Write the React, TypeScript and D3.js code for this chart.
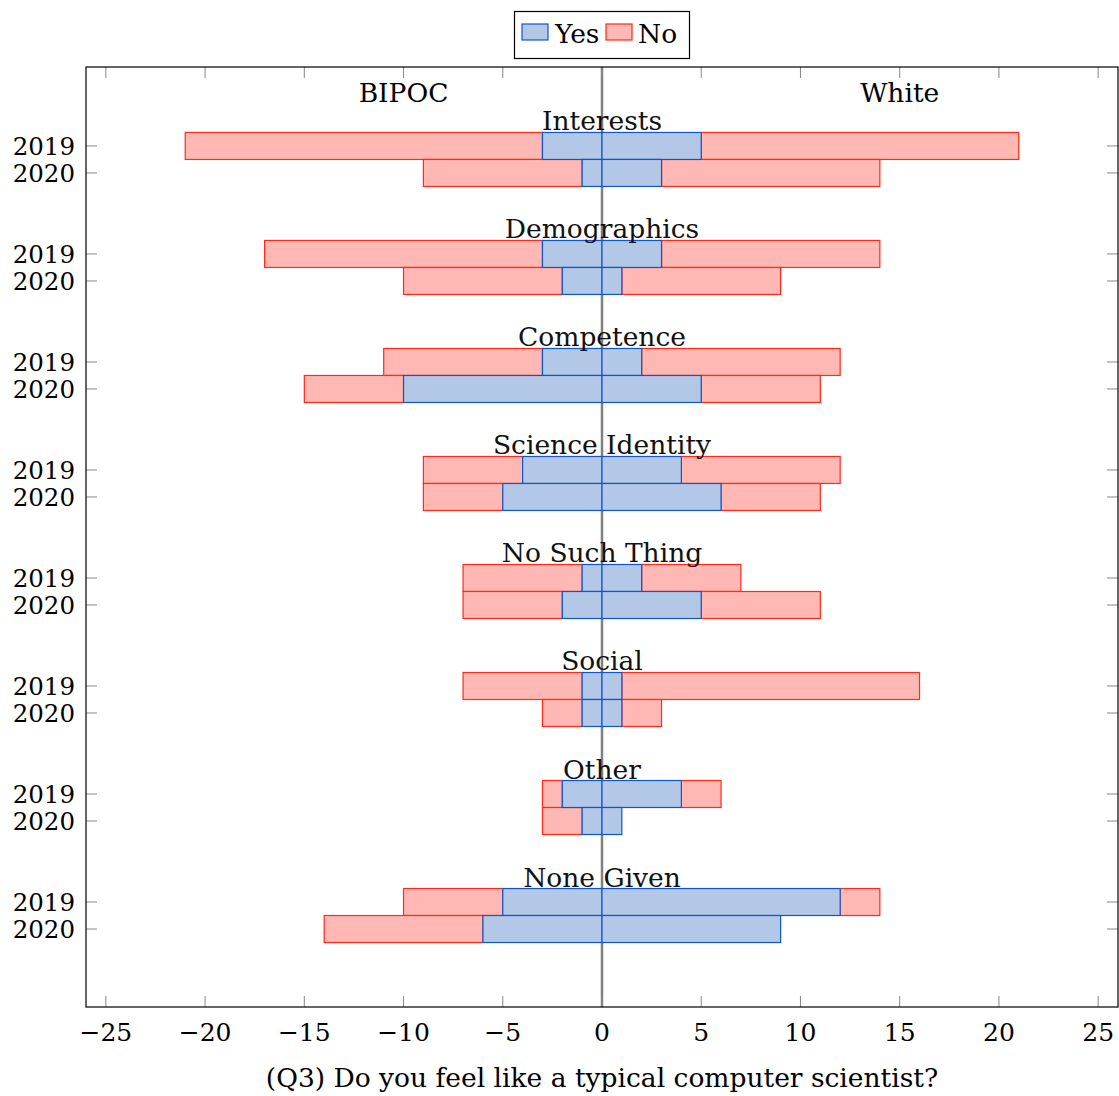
import React, { useRef, useEffect } from "react";
import * as d3 from "d3";

const categories = [
  "Interests",
  "Demographics",
  "Competence",
  "Science Identity",
  "No Such Thing",
  "Social",
  "Other",
  "None Given",
];
const years = ["2019", "2020"];

// counts per category, [2019, 2020]
const bipocYes = [[3, 1], [3, 2], [3, 10], [4, 5], [1, 2], [1, 1], [2, 1], [5, 6]];
const bipocNo = [[18, 8], [14, 8], [8, 5], [5, 4], [6, 5], [6, 2], [1, 2], [5, 8]];
const whiteYes = [[5, 3], [3, 1], [2, 5], [4, 6], [2, 5], [1, 1], [4, 1], [12, 9]];
const whiteNo = [[16, 11], [11, 8], [10, 6], [8, 5], [5, 6], [15, 2], [2, 0], [2, 0]];

const xTicks = [-25, -20, -15, -10, -5, 0, 5, 10, 15, 20, 25];

const font = "DejaVu Serif";
const fsWord = 26.5;
const fsNum = 24.5;
const blueFill = "#b3c7e7";
const blueStroke = "#1155cc";
const redFill = "#ffb8b3";
const redStroke = "#ff2a1a";

export default function App() {
  const ref = useRef<SVGSVGElement>(null);

  const width = 1119;
  const height = 1096;
  const left = 86;
  const right = 1118;
  const top = 67;
  const bottom = 1007;

  useEffect(() => {
    const vis = d3.select(ref.current);
    vis.selectAll("*").remove();

    const x = d3.scaleLinear().domain([-26, 26]).range([left, right]);
    const y = d3.scaleLinear().domain([-0.731, 7.972]).range([top, bottom]);
    const barH = y(0.25) - y(0);

    // center line
    vis
      .append("line")
      .attr("x1", x(0))
      .attr("x2", x(0))
      .attr("y1", top)
      .attr("y2", bottom)
      .attr("stroke", "#808080")
      .attr("stroke-width", 2.5);

    const rows: any[] = [];
    categories.forEach((c, g) => {
      years.forEach((yr, k) => {
        rows.push({
          pos: g + k * 0.25,
          by: bipocYes[g][k],
          bn: bipocNo[g][k],
          wy: whiteYes[g][k],
          wn: whiteNo[g][k],
        });
      });
    });

    const bars: any[] = [];
    rows.forEach((r) => {
      if (r.bn > 0) bars.push({ pos: r.pos, x0: -r.by - r.bn, x1: -r.by, kind: "no" });
      if (r.wn > 0) bars.push({ pos: r.pos, x0: r.wy, x1: r.wy + r.wn, kind: "no" });
    });
    rows.forEach((r) => {
      if (r.by > 0) bars.push({ pos: r.pos, x0: -r.by, x1: 0, kind: "yes" });
      if (r.wy > 0) bars.push({ pos: r.pos, x0: 0, x1: r.wy, kind: "yes" });
    });

    vis
      .append("g")
      .selectAll("rect")
      .data(bars)
      .join("rect")
      .attr("x", (d) => x(d.x0))
      .attr("width", (d) => x(d.x1) - x(d.x0))
      .attr("y", (d) => y(d.pos) - barH / 2)
      .attr("height", barH)
      .attr("fill", (d) => (d.kind === "yes" ? blueFill : redFill))
      .attr("stroke", (d) => (d.kind === "yes" ? blueStroke : redStroke))
      .attr("stroke-width", 1.2);

    // category labels
    vis
      .append("g")
      .selectAll("text")
      .data(categories)
      .join("text")
      .attr("x", x(0))
      .attr("y", (d, i) => y(i) - barH / 2 - 2)
      .attr("text-anchor", "middle")
      .attr("font-family", font)
      .attr("font-size", fsWord)
      .attr("fill", "#111")
      .text((d) => d);

    vis
      .append("text")
      .attr("x", x(-10))
      .attr("y", 102)
      .attr("text-anchor", "middle")
      .attr("font-family", font)
      .attr("font-size", fsWord)
      .text("BIPOC");
    vis
      .append("text")
      .attr("x", x(15))
      .attr("y", 102)
      .attr("text-anchor", "middle")
      .attr("font-family", font)
      .attr("font-size", fsWord)
      .text("White");

    // ticks
    const tickLen = 11;
    const ticks = vis.append("g").attr("stroke", "#888").attr("stroke-width", 1);
    xTicks.forEach((t) => {
      ticks.append("line").attr("x1", x(t)).attr("x2", x(t)).attr("y1", bottom).attr("y2", bottom - tickLen);
      ticks.append("line").attr("x1", x(t)).attr("x2", x(t)).attr("y1", top).attr("y2", top + tickLen);
    });
    rows.forEach((r) => {
      ticks.append("line").attr("x1", left).attr("x2", left + tickLen).attr("y1", y(r.pos)).attr("y2", y(r.pos));
      ticks.append("line").attr("x1", right).attr("x2", right - tickLen).attr("y1", y(r.pos)).attr("y2", y(r.pos));
    });

    vis
      .append("g")
      .selectAll("text")
      .data(xTicks)
      .join("text")
      .attr("x", (d) => x(d))
      .attr("y", bottom + 34)
      .attr("text-anchor", "middle")
      .attr("font-family", font)
      .attr("font-size", fsNum + 0.5)
      .text((d) => (d < 0 ? "\u2212" + Math.abs(d) : String(d)));

    vis
      .append("g")
      .selectAll("text")
      .data(rows)
      .join("text")
      .attr("x", left - 11)
      .attr("y", (d) => y(d.pos))
      .attr("dy", "0.36em")
      .attr("text-anchor", "end")
      .attr("font-family", font)
      .attr("font-size", fsNum)
      .text((d, i) => years[i % 2]);

    // frame
    vis
      .append("rect")
      .attr("x", left)
      .attr("y", top)
      .attr("width", right - left)
      .attr("height", bottom - top)
      .attr("fill", "none")
      .attr("stroke", "#000")
      .attr("stroke-width", 1.2);

    vis
      .append("text")
      .attr("x", x(0))
      .attr("y", 1087)
      .attr("text-anchor", "middle")
      .attr("font-family", font)
      .attr("font-size", fsWord)
      .text("(Q3) Do you feel like a typical computer scientist?");

    // legend
    const lg = vis.append("g");
    lg.append("rect")
      .attr("x", 514.5)
      .attr("y", 11.5)
      .attr("width", 175)
      .attr("height", 47)
      .attr("fill", "#fff")
      .attr("stroke", "#000")
      .attr("stroke-width", 1.2);
    [
      { label: "Yes", fill: blueFill, stroke: blueStroke, sx: 522, tx: 555 },
      { label: "No", fill: redFill, stroke: redStroke, sx: 606, tx: 638 },
    ].forEach((e) => {
      lg.append("rect")
        .attr("x", e.sx)
        .attr("y", 24)
        .attr("width", 26)
        .attr("height", 16)
        .attr("fill", e.fill)
        .attr("stroke", e.stroke)
        .attr("stroke-width", 1.2);
      lg.append("text")
        .attr("x", e.tx)
        .attr("y", 43)
        .attr("font-family", font)
        .attr("font-size", fsWord)
        .text(e.label);
    });
  }, []);

  return (
    <div style={{ position: "absolute", left: 0, top: 0 }}>
      <svg width={width} height={height} ref={ref} style={{ display: "block", background: "#fff" }}></svg>
    </div>
  );
}
